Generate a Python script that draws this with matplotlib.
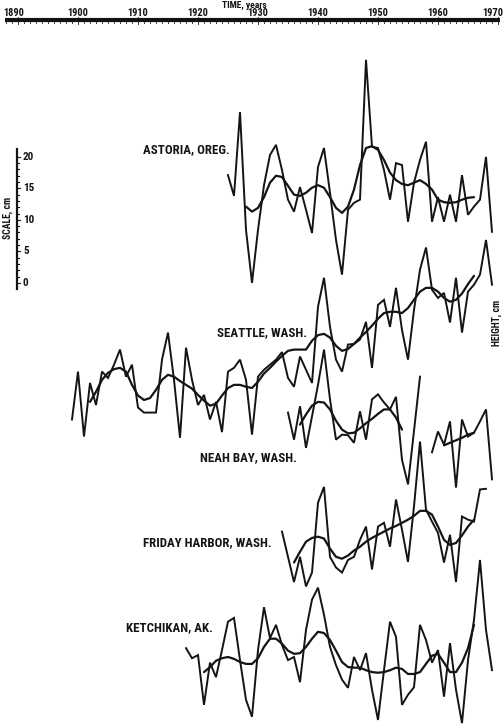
import matplotlib.pyplot as plt
import numpy as np

# annual mean sea level, cm (each station has its own zero, set by the offsets below)
astoria_years = list(range(1925, 1970))
astoria = [23.3, 20.0, 33.3, 14.6, 6.2, 14.6, 21.7, 26.5, 28.1, 24.1,
           19.4, 17.5, 21.4, 17.8, 14.1, 24.6, 27.6, 20.5, 13.0, 7.5,
           17.8, 18.9, 19.4, 41.6, 27.8, 27.6, 24.1, 19.4, 25.2, 24.9,
           15.9, 22.1, 25.7, 28.6, 15.9, 19.8, 15.9, 20.2, 15.9, 23.3,
           17.0, 18.3, 19.4, 26.2, 14.3]
astoria_sm_years = list(range(1928, 1967))
astoria_sm = [18.3, 17.5, 18.1, 19.8, 22.1, 23.2, 23.0, 21.6, 20.2, 20.0,
              20.5, 21.3, 21.7, 21.3, 19.8, 18.1, 17.3, 18.3, 21.0, 24.9,
              27.6, 27.9, 27.3, 25.7, 23.7, 22.5, 21.9, 21.7, 22.1, 22.5,
              21.9, 21.0, 19.4, 19.0, 18.9, 19.0, 19.4, 19.7, 19.8]

seattle_years = list(range(1899, 1970))
seattle = [8.3, 15.9, 5.6, 14.1, 10.6, 15.9, 14.9, 17.0, 19.4, 15.1,
           17.0, 10.2, 9.4, 9.4, 9.4, 17.8, 22.1, 14.6, 5.4, 19.7,
           14.6, 10.6, 12.2, 8.3, 11.1, 6.3, 15.9, 16.5, 17.8, 14.6,
           5.9, 15.1, 16.2, 17.0, 17.8, 19.0, 14.9, 13.5, 18.3, 16.2,
           14.1, 26.2, 30.8, 23.0, 17.8, 15.9, 20.2, 20.3, 21.0, 23.8,
           16.5, 26.5, 27.3, 23.0, 29.2, 22.5, 17.8, 25.7, 32.1, 35.6,
           28.9, 27.6, 28.4, 23.7, 30.8, 22.1, 28.6, 29.7, 31.3, 36.8,
           29.7]
seattle_sm_years = list(range(1902, 1967))
seattle_sm = [11.1, 12.7, 14.6, 15.7, 16.3, 16.5, 15.9,
              13.8, 12.1, 11.4, 11.7, 13.0, 14.6, 15.4, 15.1, 14.4, 13.8,
              13.2, 12.2, 11.3, 10.5, 10.8, 12.1, 13.3, 13.8, 13.8, 13.5,
              13.3, 14.3, 15.6, 16.5, 17.5, 18.4, 19.2, 19.4, 19.4, 19.4,
              20.8, 21.7, 21.9, 21.3, 20.0, 19.2, 19.5, 20.3, 21.3, 22.2,
              23.2, 24.3, 25.2, 25.4, 25.4, 25.2, 26.0, 27.3, 28.6, 29.2,
              29.2, 28.6, 27.6, 27.0, 27.3, 28.3, 29.8, 31.1]

# Neah Bay record has a break around 1958
neah_a_years = list(range(1935, 1958))
neah_a = [17.3, 13.0, 18.3, 11.7, 16.7, 21.7, 27.3, 19.4, 13.0, 13.8,
          13.7, 12.5, 17.5, 13.0, 19.4, 20.2, 18.9, 17.8, 19.8, 9.8,
          5.9, 14.4, 23.0]
neah_b_years = list(range(1959, 1970))
neah_b = [11.0, 14.3, 12.2, 15.9, 5.4, 16.2, 13.5, 14.1, 15.9, 17.8, 6.7]
neah_a_sm_years = list(range(1937, 1955))
neah_a_sm = [15.4, 17.0, 18.4, 19.0, 18.9, 17.8, 16.0, 14.6, 14.0, 14.1,
             14.8, 15.6, 16.3, 17.1, 17.8, 17.8, 16.5, 14.6]
neah_b_sm_years = list(range(1961, 1967))
neah_b_sm = [12.1, 12.5, 12.9, 13.3, 13.8, 14.1]

friday_years = list(range(1934, 1969))
friday = [14.3, 10.3, 6.3, 10.3, 5.6, 7.8, 18.9, 21.4, 10.3, 8.6,
          7.8, 9.8, 10.3, 13.0, 15.1, 8.3, 15.1, 15.7, 11.9, 19.4,
          14.6, 9.5, 18.3, 28.6, 17.8, 15.9, 14.1, 9.4, 13.8, 6.3,
          16.7, 16.2, 15.9, 21.0, 21.1]
friday_sm_years = list(range(1936, 1967))
friday_sm = [9.4, 11.1, 12.7, 13.3, 13.5, 13.2, 11.6, 10.3, 10.0, 10.5,
             11.3, 11.9, 12.7, 13.3, 13.8, 14.3, 14.8, 15.2, 15.7, 16.2,
             16.8, 17.6, 17.6, 17.0, 15.1, 13.0, 12.2, 12.5, 13.7, 15.1, 16.2]

ketchikan_years = list(range(1918, 1970))
ketchikan = [13.3, 11.7, 12.2, 4.3, 11.0, 8.7, 13.0, 17.5, 18.1, 11.4,
             5.1, 2.4, 13.0, 19.8, 14.9, 17.0, 13.8, 11.4, 11.9, 7.9,
             16.2, 21.0, 22.9, 18.6, 13.5, 10.6, 8.3, 7.0, 11.9, 9.8,
             12.5, 6.7, 1.9, 9.8, 17.5, 15.1, 4.3, 5.9, 7.1, 17.0,
             14.6, 11.0, 13.0, 5.6, 14.1, 6.7, 1.4, 11.4, 17.8, 27.3,
             16.2, 9.8]
ketchikan_sm_years = list(range(1921, 1967))
ketchikan_sm = [9.5, 10.3, 11.3, 11.7, 11.9, 11.6, 11.1, 10.8, 10.8, 11.7,
                13.5, 14.8, 14.8, 14.0, 12.9, 12.4, 12.5, 13.5, 14.8, 15.9,
                15.7, 14.6, 12.9, 11.1, 10.3, 10.2, 10.2, 9.8, 9.5, 9.4,
                9.5, 9.8, 10.2, 10.0, 9.2, 9.2, 9.5, 10.8, 12.1, 12.4,
                11.0, 9.5, 9.5, 11.0, 13.3, 17.0]

station_names = ["ASTORIA, OREG.", "SEATTLE, WASH.", "NEAH BAY, WASH.",
                 "FRIDAY HARBOR, WASH.", "KETCHIKAN, AK."]
station_offsets = [-6.2, -30.0, -37.9, -53.8, -71.3]
# where each station name sits (year of right edge, height in station cm)
label_pos = [(1925.3, 27.3), (1938.2, 22.1), (1936.5, 10.1), (1932.3, 12.5), (1922.5, 16.5)]

raw_series = [
    [(astoria_years, astoria)],
    [(seattle_years, seattle)],
    [(neah_a_years, neah_a), (neah_b_years, neah_b)],
    [(friday_years, friday)],
    [(ketchikan_years, ketchikan)],
]
smooth_series = [
    [(astoria_sm_years, astoria_sm)],
    [(seattle_sm_years, seattle_sm)],
    [(neah_a_sm_years, neah_a_sm), (neah_b_sm_years, neah_b_sm)],
    [(friday_sm_years, friday_sm)],
    [(ketchikan_sm_years, ketchikan_sm)],
]

decades = list(range(1890, 1971, 10))

ink = "#141414"
font = ["Roboto Condensed", "Liberation Sans Narrow", "Roboto", "DejaVu Sans"]

fig = plt.figure(figsize=(5.04, 7.25), dpi=100)
ax = fig.add_axes([0, 0, 1, 1])
ax.set_xlim(1887, 1971)
ax.set_ylim(-70.2, 44.9)
ax.axis("off")

for off, raws, smooths in zip(station_offsets, raw_series, smooth_series):
    for yrs, vals in raws:
        ax.plot(yrs, np.array(vals) + off, color=ink, lw=1.4, solid_joinstyle="miter")
    for yrs, vals in smooths:
        ax.plot(yrs, np.array(vals) + off, color=ink, lw=1.6, solid_capstyle="round")

for name, off, (lx, ly) in zip(station_names, station_offsets, label_pos):
    ax.text(lx, ly + off, name, ha="right", va="center", fontsize=9.3,
            fontweight="bold", family=font, color=ink)

# time ruler along the top
axis_y = 41.65
ax.plot([1887.8, 1970.3], [axis_y, axis_y], color=ink, lw=3.0, solid_capstyle="butt")
for yr in range(1888, 1971):
    h = 0.4 if yr % 10 else 0.6
    ax.plot([yr, yr], [axis_y - h, axis_y + h], color=ink, lw=0.6)
for d in decades:
    ha = "center"
    x = d
    if d == decades[0]:
        ha, x = "left", 1887.5
    elif d == decades[-1]:
        ha, x = "right", 1970.9
    ax.text(x, 42.8, str(d), ha=ha, va="center", fontsize=7.5,
            fontweight="bold", family=font, color=ink)
ax.text(1927.8, 44.1, "TIME, years", ha="center", va="center", fontsize=6.8,
        fontweight="bold", family=font, color=ink)

# vertical scale bar
bar_x = 1889.83
ax.plot([bar_x, bar_x], [-1.0, 21.2], color=ink, lw=1.6)
for cm in range(0, 21):
    w = 0.55 if cm % 5 == 0 else 0.3
    ax.plot([bar_x, bar_x + w], [cm, cm], color=ink, lw=0.8)
for cm in range(0, 21, 5):
    ax.text(bar_x + 1.0, cm, str(cm), ha="left", va="center", fontsize=8,
            fontweight="bold", family=font, color=ink)
ax.text(1888.3, 10.3, "SCALE, cm", rotation=90, ha="center", va="center",
        fontsize=7, fontweight="bold", family=font, color=ink)
ax.text(1969.8, -6.3, "HEIGHT, cm", rotation=90, ha="center", va="center",
        fontsize=7, fontweight="bold", family=font, color=ink)

fig.savefig("out.png", dpi=100, facecolor="white")
